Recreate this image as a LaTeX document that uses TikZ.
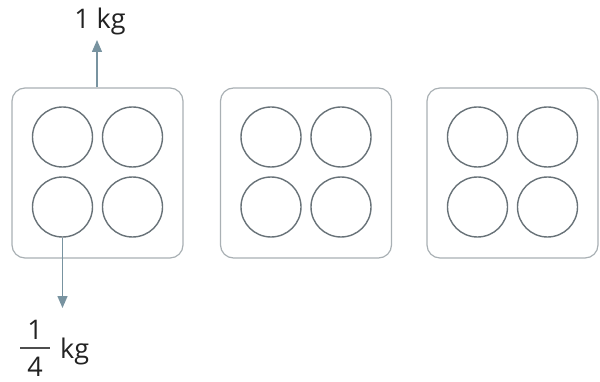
\documentclass[tikz,border=0pt]{standalone}
\usepackage{fontspec}
\setmainfont{Open Sans}
\usetikzlibrary{arrows.meta}
\definecolor{trayc}{HTML}{A9B0B4}
\definecolor{holec}{HTML}{687278}
\definecolor{arrc}{HTML}{7893A0}
\definecolor{txtc}{HTML}{222222}
\begin{document}
\begin{tikzpicture}[x=1pt,y=-1pt,
  tray/.style={draw=trayc,line width=1.2pt,rounded corners=13pt,fill=white},
  hole/.style={draw=holec,line width=1.4pt,circle,minimum size=60pt,inner sep=0pt},
  pointer/.style={draw=arrc,line width=1.4pt,-{Triangle[width=10pt,length=12pt]}},
  lbl/.style={font=\fontsize{27}{30}\selectfont,text=txtc,inner sep=0pt}]
\useasboundingbox (0,0) rectangle (600,382);
\foreach \i/\cx in {1/97.5,2/306,3/512.5}{
  \node[tray,minimum width=171pt,minimum height=170pt,inner sep=0pt] (t\i) at (\cx,173) {};
  \node[hole] (c\i a) at (\cx-35,137) {};
  \node[hole] (c\i b) at (\cx+35,137) {};
  \node[hole] (c\i c) at (\cx-35,207) {};
  \node[hole] (c\i d) at (\cx+35,207) {};
}
\node[lbl] (top) at (100,21) {1 kg};
\coordinate (topend) at (97,40);
\draw[pointer] (t1.north -| topend) -- (topend);
\coordinate (botend) at (c1c.south |- 0,308);
\draw[pointer] (c1c.south) -- (botend);
\node[lbl] (num) at (35,330) {1};
\node[lbl] (den) at (35,367) {4};
\draw[txtc!80,line width=2.2pt] (20,348) -- (50,348);
\node[lbl,anchor=west] (kg) at (60,351) {kg};
\end{tikzpicture}
\end{document}
